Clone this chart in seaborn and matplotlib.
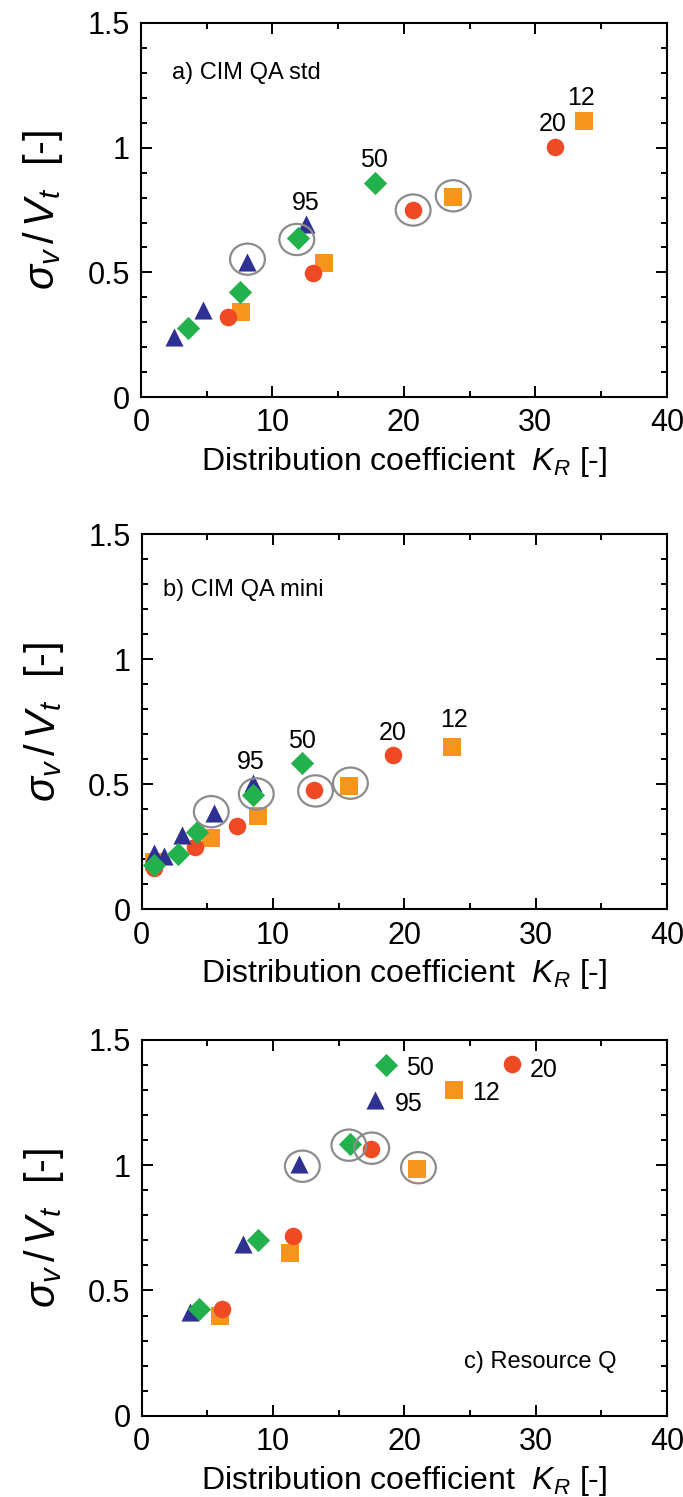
import numpy as np
import pandas as pd
import matplotlib
matplotlib.use("Agg")
import matplotlib.pyplot as plt
from matplotlib.patches import Ellipse
from matplotlib.ticker import MultipleLocator, FuncFormatter
import seaborn as sns

# series: 12 (square), 20 (circle), 95 (triangle), 50 (diamond) -- drawing order
series = ["12", "20", "95", "50"]

# a) CIM QA std
a_kr_12 = [7.6, 13.95, 23.7, 33.7]
a_sv_12 = [0.34, 0.537, 0.803, 1.108]
a_kr_20 = [6.6, 13.1, 20.7, 31.5]
a_sv_20 = [0.323, 0.499, 0.750, 1.004]
a_kr_95 = [2.5, 4.75, 8.05, 12.55]
a_sv_95 = [0.243, 0.35, 0.543, 0.694]
a_kr_50 = [3.6, 7.55, 11.95, 17.8]
a_sv_50 = [0.276, 0.423, 0.637, 0.857]

# b) CIM QA mini
b_kr_12 = [0.96, 5.27, 8.86, 15.8, 23.6]
b_sv_12 = [0.19, 0.285, 0.374, 0.494, 0.649]
b_kr_20 = [0.96, 4.05, 7.24, 13.1, 19.15]
b_sv_20 = [0.165, 0.251, 0.335, 0.478, 0.618]
b_kr_95 = [0.96, 1.67, 3.07, 5.52, 8.48]
b_sv_95 = [0.225, 0.214, 0.298, 0.385, 0.505]
b_kr_50 = [0.96, 2.73, 4.2, 8.48, 12.23]
b_sv_50 = [0.178, 0.222, 0.311, 0.458, 0.587]

# c) Resource Q
c_kr_12 = [5.93, 11.3, 20.96, 23.8]
c_sv_12 = [0.399, 0.65, 0.983, 1.299]
c_kr_20 = [6.1, 11.5, 17.47, 28.2]
c_sv_20 = [0.426, 0.719, 1.066, 1.403]
c_kr_95 = [3.66, 7.75, 11.97, 17.8]
c_sv_95 = [0.416, 0.687, 1.003, 1.259]
c_kr_50 = [4.34, 8.89, 15.83, 18.6]
c_sv_50 = [0.426, 0.70, 1.083, 1.40]

# circled points (ellipse centres)
a_circ_x = [8.1, 11.85, 20.7, 23.75]
a_circ_y = [0.553, 0.632, 0.75, 0.807]
b_circ_x = [5.3, 8.73, 13.24, 15.9]
b_circ_y = [0.391, 0.462, 0.474, 0.505]
c_circ_x = [12.24, 15.78, 17.52, 21.08]
c_circ_y = [0.996, 1.08, 1.068, 0.99]

# series labels placed next to last points
a_lab_x = [33.5, 31.3, 12.5, 17.7]
a_lab_y = [1.20, 1.095, 0.777, 0.95]
b_lab_x = [23.8, 19.1, 8.3, 12.2]
b_lab_y = [0.758, 0.705, 0.59, 0.674]
c_lab_x = [25.2, 29.55, 19.3, 20.1]
c_lab_y = [1.29, 1.38, 1.243, 1.39]

titles = ["a) CIM QA std", "b) CIM QA mini", "c) Resource Q"]

palette = {"12": "#F7941D", "20": "#EF4A23", "95": "#2E3192", "50": "#22B14C"}
markers = {"12": "s", "20": "o", "95": "^", "50": "D"}
sizes = {"12": 150, "20": 160, "95": 170, "50": 140}

sns.set_theme(style="ticks")
plt.rcParams["font.family"] = ["Liberation Sans", "DejaVu Sans"]
plt.rcParams["mathtext.fontset"] = "custom"
plt.rcParams["mathtext.rm"] = "Liberation Sans"
plt.rcParams["mathtext.it"] = "Liberation Sans:italic"
plt.rcParams["mathtext.bf"] = "Liberation Sans:bold"
plt.rcParams["text.color"] = "black"
plt.rcParams["axes.labelcolor"] = "black"
plt.rcParams["xtick.color"] = "black"
plt.rcParams["ytick.color"] = "black"


def make_df(kr12, sv12, kr20, sv20, kr95, sv95, kr50, sv50):
    parts = []
    for name, kr, sv in [("12", kr12, sv12), ("20", kr20, sv20),
                         ("95", kr95, sv95), ("50", kr50, sv50)]:
        parts.append(pd.DataFrame({"KR": kr, "sv": sv, "series": name}))
    return pd.concat(parts, ignore_index=True)


panels = [
    (make_df(a_kr_12, a_sv_12, a_kr_20, a_sv_20, a_kr_95, a_sv_95, a_kr_50, a_sv_50),
     a_circ_x, a_circ_y, a_lab_x, a_lab_y),
    (make_df(b_kr_12, b_sv_12, b_kr_20, b_sv_20, b_kr_95, b_sv_95, b_kr_50, b_sv_50),
     b_circ_x, b_circ_y, b_lab_x, b_lab_y),
    (make_df(c_kr_12, c_sv_12, c_kr_20, c_sv_20, c_kr_95, c_sv_95, c_kr_50, c_sv_50),
     c_circ_x, c_circ_y, c_lab_x, c_lab_y),
]

fig = plt.figure(figsize=(6.83, 14.97), dpi=100)
boxes = [[0.2064, 0.7346, 0.770, 0.2502],
         [0.2074, 0.3925, 0.769, 0.2505],
         [0.2074, 0.0543, 0.769, 0.2510]]

for i, (df, cx, cy, lx, ly) in enumerate(panels):
    ax = fig.add_axes(boxes[i])
    for s in series:
        sub = df[df["series"] == s]
        sns.scatterplot(data=sub, x="KR", y="sv", marker=markers[s],
                        color=palette[s], s=sizes[s], linewidth=0,
                        ax=ax, legend=False, zorder=3)
    for x, y in zip(cx, cy):
        ax.add_patch(Ellipse((x, y), 2.65, 0.125, fill=False,
                             edgecolor="#8C8C8C", lw=1.6, zorder=4))
    for s, x, y in zip(series, lx, ly):
        if i == 2:
            ax.text(x, y, s, fontsize=18, ha="left", va="center")
        else:
            ax.text(x, y, s, fontsize=18, ha="center", va="center")
    if i == 2:
        ax.text(36.2, 0.215, titles[i], fontsize=17, ha="right", va="center")
    elif i == 0:
        ax.text(2.35, 1.30, titles[i], fontsize=17, ha="left", va="center")
    else:
        ax.text(1.6, 1.278, titles[i], fontsize=17, ha="left", va="center")

    ax.set_xlim(0, 40)
    ax.set_ylim(0, 1.5)
    ax.xaxis.set_major_locator(MultipleLocator(10))
    ax.xaxis.set_minor_locator(MultipleLocator(5))
    ax.yaxis.set_major_locator(MultipleLocator(0.5))
    ax.yaxis.set_minor_locator(MultipleLocator(0.1))
    ax.yaxis.set_major_formatter(FuncFormatter(lambda v, p: "%g" % v))
    ax.tick_params(which="both", direction="in", top=True, right=True,
                   labelsize=22, pad=8, width=1.4, color="black")
    ax.tick_params(which="major", length=8)
    ax.tick_params(which="minor", length=4)
    for sp in ax.spines.values():
        sp.set_linewidth(1.5)
        sp.set_color("black")
    ax.set_xlabel("Distribution coefficient  $K_R$ [-]", fontsize=23, labelpad=5)
    ax.set_ylabel(r"$\sigma_v\,/\,V_t$  [-]", fontsize=30, labelpad=16)

fig.savefig("out.png", dpi=100)
